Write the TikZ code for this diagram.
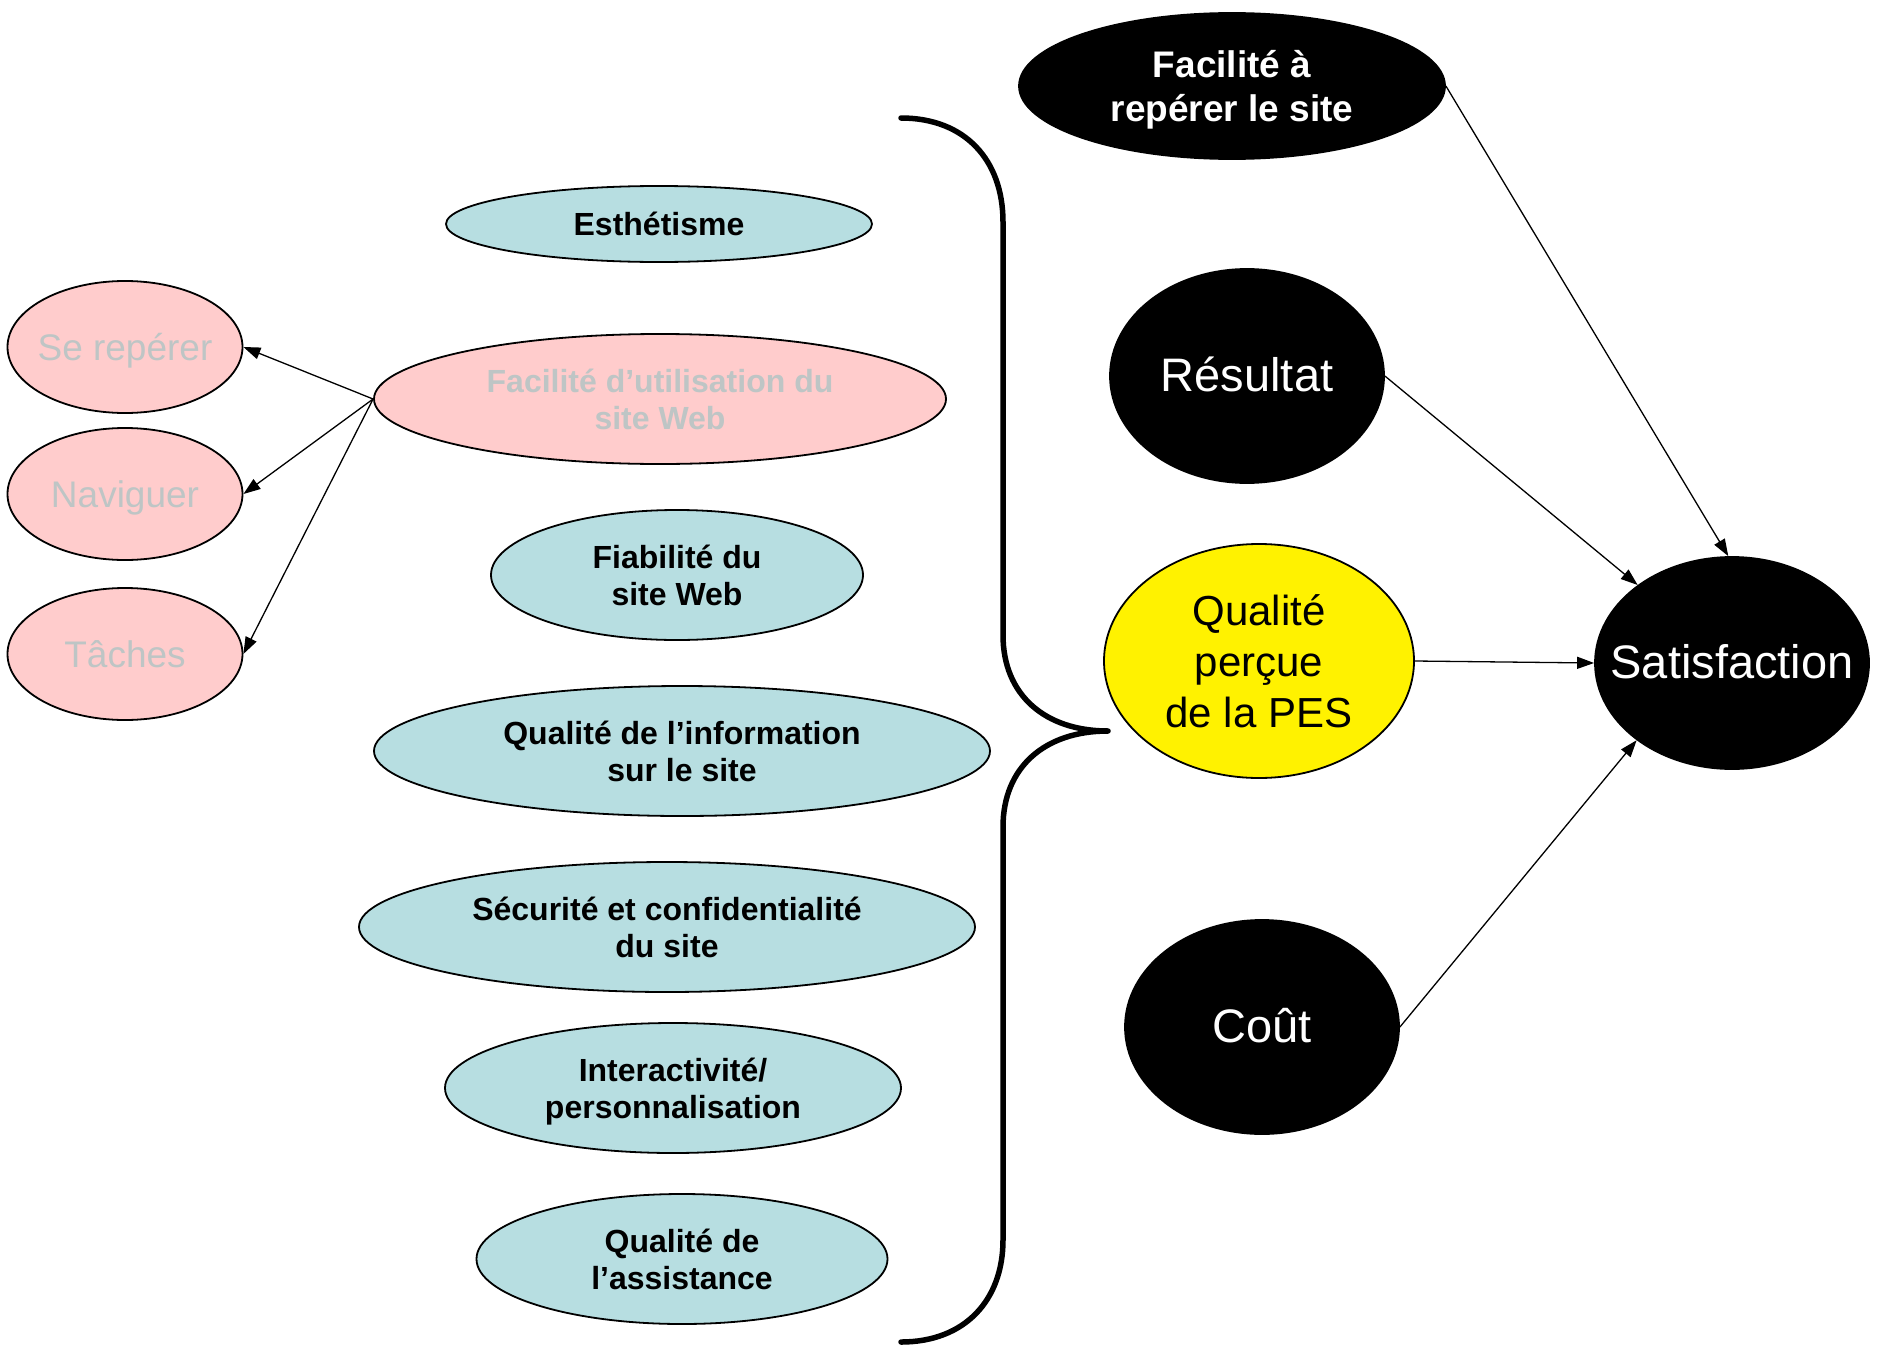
\documentclass[tikz,border=0pt]{standalone}
\usepackage{fontspec}
\setmainfont{Liberation Sans}
\usetikzlibrary{shapes.geometric,arrows.meta}
\definecolor{paleblue}{RGB}{183,222,225}
\definecolor{palepink}{RGB}{255,204,204}
\definecolor{mutedtext}{RGB}{190,197,197}

% centred lines of text with no size of their own, so the oval keeps its given size
\newcommand{\ovaltext}[1]{\raisebox{\dimexpr-0.05em-9pt\relax}[0pt][0pt]{\makebox[0pt]{\begin{tabular}{@{}c@{}}#1\end{tabular}}}}

\tikzset{
  oval/.style={ellipse, draw=black, line width=1.8pt, inner sep=0pt},
  factor/.style={oval, fill=paleblue, font=\fontsize{32}{37.5}\selectfont\bfseries},
  usage/.style={oval, fill=palepink, text=mutedtext, font=\fontsize{32}{37.5}\selectfont\bfseries},
  subtask/.style={oval, fill=palepink, text=mutedtext, font=\fontsize{37}{44}\selectfont,
                  minimum width=235pt, minimum height=132pt},
  dark/.style={oval, fill=black, text=white, font=\fontsize{47}{54}\selectfont},
  link/.style={line width=1.3pt, -{Triangle[length=17pt,width=12pt]}},
  brace/.style={line width=5.5pt, line cap=round, line join=round}
}

\begin{document}
\begin{tikzpicture}[x=1pt, y=-1pt]
  \useasboundingbox (0,0) rectangle (1879,1354);

  % right-hand model
  \node[dark, font=\fontsize{37}{44}\selectfont\bfseries,
        minimum width=426pt, minimum height=146pt] (far) at (1232,86) {\ovaltext{Facilité à\\repérer le site}};
  \node[dark, minimum width=274pt, minimum height=214pt] (res) at (1247,376) {\ovaltext{Résultat}};
  \node[oval, fill=yellow, font=\fontsize{42}{51}\selectfont,
        minimum width=310pt, minimum height=234pt] (qual) at (1259,661) {\ovaltext{Qualité\\perçue\\de la PES}};
  \node[dark, minimum width=274pt, minimum height=214pt] (cout) at (1262,1027) {\ovaltext{Coût}};
  \node[dark, minimum width=274pt, minimum height=212pt] (sat) at (1732,663) {\ovaltext{Satisfaction}};

  % quality dimensions
  \node[factor, minimum width=426pt, minimum height=76pt] (esth) at (659,224) {\ovaltext{Esthétisme}};
  \node[usage, minimum width=572pt, minimum height=130pt] (fu) at (660,399) {\ovaltext{Facilité d’utilisation du\\site Web}};
  \node[factor, minimum width=372pt, minimum height=130pt] (fiab) at (677,575) {\ovaltext{Fiabilité du\\site Web}};
  \node[factor, minimum width=616pt, minimum height=130pt] (qinfo) at (682,751) {\ovaltext{Qualité de l’information\\sur le site}};
  \node[factor, minimum width=616pt, minimum height=130pt] (secu) at (667,927) {\ovaltext{Sécurité et confidentialité\\du site}};
  \node[factor, minimum width=456pt, minimum height=130pt] (inter) at (673,1088) {\ovaltext{Interactivité/\\personnalisation}};
  \node[factor, minimum width=411pt, minimum height=130pt] (assist) at (682,1259) {\ovaltext{Qualité de\\l’assistance}};

  % ease-of-use sub-dimensions
  \node[subtask] (ser) at (125,347) {\ovaltext{Se repérer}};
  \node[subtask] (nav) at (125,494) {\ovaltext{Naviguer}};
  \node[subtask] (tach) at (125,654) {\ovaltext{Tâches}};

  % connectors
  \draw[link] (fu.west) -- (ser.east);
  \draw[link] (fu.west) -- (nav.east);
  \draw[link] (fu.west) -- (tach.east);
  \draw[link] (far.east) -- (sat.92);
  \draw[link] (res.east) -- (sat);
  \draw[link] (qual.east) -- (sat.west);
  \draw[link] (cout.east) -- (sat.219);

  % curly brace grouping the dimensions
  \draw[brace] (901,118) .. controls (965,118) and (1003,160) .. (1003,222)
    -- (1003,635) .. controls (1003,695) and (1045,731) .. (1108,731)
    .. controls (1045,731) and (1003,767) .. (1003,827)
    -- (1003,1240) .. controls (1003,1300) and (965,1342) .. (901,1342);
\end{tikzpicture}
\end{document}
